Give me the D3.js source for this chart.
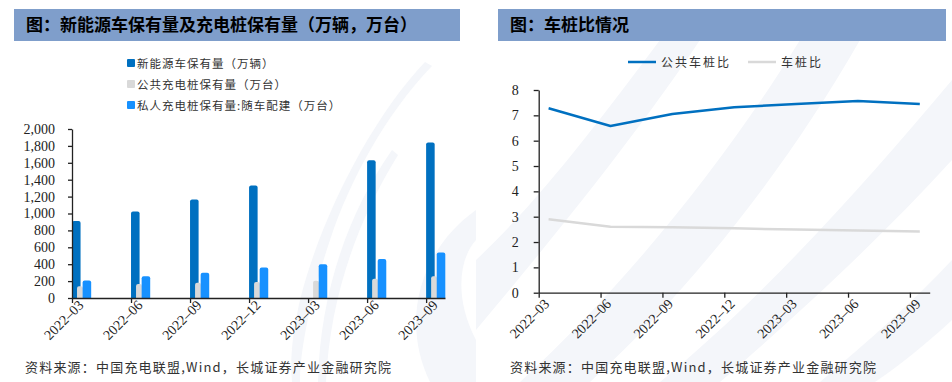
<!DOCTYPE html>
<html>
<head>
<meta charset="utf-8">
<script src="https://cdn.jsdelivr.net/npm/d3@7"></script>
<style>
  body { margin: 0; background: #fff; }
  svg { display: block; }
</style>
</head>
<body>
<div id="my_dataviz"></div>
<script>
// data
var dates = ["2022-03", "2022-06", "2022-09", "2022-12", "2023-03", "2023-06", "2023-09"];
var nevStock = [910, 1025, 1165, 1330, null, 1630, 1840];      // 新能源车保有量（万辆）
var publicPiles = [140, 165, 180, 190, 205, 228, 258];       // 公共充电桩保有量（万台）
var privatePiles = [208, 258, 298, 360, 398, 462, 538];      // 私人充电桩保有量
var publicRatio = [7.28, 6.58, 7.05, 7.32, 7.45, 7.57, 7.45]; // 公共车桩比
var totalRatio = [2.9, 2.6, 2.58, 2.54, 2.49, 2.45, 2.42];     // 车桩比
var leftTicks = [0, 200, 400, 600, 800, 1000, 1200, 1400, 1600, 1800, 2000];
var rightTicks = [0, 1, 2, 3, 4, 5, 6, 7, 8];

var cnFont = "'Noto Sans CJK SC', sans-serif";
var numFont = "'Liberation Serif', 'DejaVu Serif', serif";

var svg = d3.select("#my_dataviz")
    .append("svg")
    .attr("width", 952)
    .attr("height", 382);

// faint watermark in the background
var wm = svg.append("g").attr("fill", "#f4f6fa");
wm.append("path")
    .attr("d", "M425,62 C370,120 320,220 300,300 C292,335 290,360 292,382 L300,382 C300,350 310,300 330,240 C350,180 385,115 432,66 Z");
wm.append("path")
    .attr("d", "M392,150 C350,210 320,290 318,382 L326,382 C330,300 355,225 398,155 Z");
wm.append("path")
    .attr("d", "M476,210 C420,250 400,320 430,382 L476,382 L476,340 C455,300 458,260 476,240 Z");
// diagonal sweeps in the right panel
wm.append("path")
    .attr("d", "M476,260 C540,200 600,120 660,40 L700,40 C640,130 560,230 476,330 Z");
wm.append("path")
    .attr("d", "M520,382 C620,290 720,170 800,40 L860,40 C780,180 680,300 590,382 Z");
wm.append("path")
    .attr("d", "M660,382 C760,300 860,190 952,80 L952,160 C870,250 780,330 720,382 Z");
wm.append("path")
    .attr("d", "M820,382 C870,340 915,300 952,260 L952,320 C925,345 900,365 875,382 Z");

// title bars
function titleBar(x, w, label) {
    svg.append("rect")
        .attr("x", x).attr("y", 9)
        .attr("width", w).attr("height", 32)
        .attr("fill", "#7f9ecb");
    svg.append("text")
        .attr("x", x + 12).attr("y", 31)
        .style("font-family", cnFont)
        .style("font-size", "17px")
        .style("font-weight", "bold")
        .attr("fill", "#000")
        .text(label);
}
titleBar(14, 446, "图：新能源车保有量及充电桩保有量（万辆，万台）");
titleBar(498, 448, "图：车桩比情况");

// ---------- left chart: grouped bars ----------
var L = { left: 72, top: 129, width: 373, height: 169 };
var gL = svg.append("g")
    .attr("transform", "translate(" + L.left + "," + L.top + ")");

var xL = d3.scaleLinear()
    .domain([0, 6.32])
    .range([0, L.width]);
var yL = d3.scaleLinear()
    .domain([0, 2000])
    .range([L.height, 0]);

// drawn in this order: dark bar, grey bar over it, light blue last
var barSeries = [
    { name: "新能源车保有量（万辆）", values: nevStock, color: "#0070c0", off: 0, w: 0.145 },
    { name: "公共充电桩保有量（万台）", values: publicPiles, color: "#d9d9d9", off: 0.085, w: 0.1 },
    { name: "私人充电桩保有量:随车配建（万台）", values: privatePiles, color: "#1791ff", off: 0.18, w: 0.145 }
];

barSeries.forEach(function (s) {
    var bw = xL(s.w) - xL(0);
    gL.selectAll(null)
        .data(s.values.map(function (v, i) { return { i: i, v: v }; }).filter(function (d) { return d.v != null; }))
        .enter()
        .append("path")
        .attr("fill", s.color)
        .attr("d", function (d) {
            var x0 = xL(d.i + s.off), y0 = yL(d.v), y1 = yL(0), r = 2;
            return "M" + x0 + "," + y1 + " L" + x0 + "," + (y0 + r) +
                " Q" + x0 + "," + y0 + " " + (x0 + r) + "," + y0 +
                " L" + (x0 + bw - r) + "," + y0 +
                " Q" + (x0 + bw) + "," + y0 + " " + (x0 + bw) + "," + (y0 + r) +
                " L" + (x0 + bw) + "," + y1 + " Z";
        });
});

function dateLabel(i) { return dates[i].replace("-", "–"); }

// axes
var yAxisL = gL.append("g")
    .call(d3.axisLeft(yL).tickValues(leftTicks).tickSize(4).tickPadding(13).tickSizeOuter(0).tickFormat(d3.format(",")));
var xAxisL = gL.append("g")
    .attr("transform", "translate(0," + L.height + ")")
    .call(d3.axisBottom(xL).tickValues(d3.range(dates.length)).tickSize(5).tickSizeOuter(0)
        .tickFormat(dateLabel));
xAxisL.selectAll("text")
    .attr("x", 0).attr("y", 0).attr("dy", 0)
    .attr("transform", "translate(12,8) rotate(-45)")
    .style("text-anchor", "end");

// legend
var legL = svg.append("g").attr("transform", "translate(127,63)");
barSeries.forEach(function (s, k) {
    legL.append("rect")
        .attr("x", 0).attr("y", k * 21 - 4)
        .attr("width", 8).attr("height", 8)
        .attr("rx", 1)
        .attr("fill", s.color);
    legL.append("text")
        .attr("x", 10).attr("y", k * 21 + 4.5)
        .style("font-family", cnFont)
        .style("font-size", "11.5px")
        .style("letter-spacing", "1px")
        .attr("fill", "#333")
        .text(s.name);
});

// ---------- right chart: lines ----------
var R = { left: 538.7, top: 90, width: 391, height: 202.7 };
var gR = svg.append("g")
    .attr("transform", "translate(" + R.left + "," + R.top + ")");

var xR = d3.scaleLinear()
    .domain([0, 6.32])
    .range([0, R.width]);
var yR = d3.scaleLinear()
    .domain([0, 8])
    .range([R.height, 0]);

var lineSeries = [
    { name: "公共车桩比", values: publicRatio, color: "#0070c0" },
    { name: "车桩比", values: totalRatio, color: "#d9d9d9" }
];
var line = d3.line()
    .x(function (d, i) { return xR(i + 0.16); })
    .y(function (d) { return yR(d); });

lineSeries.slice().reverse().forEach(function (s) {
    gR.append("path")
        .datum(s.values)
        .attr("fill", "none")
        .attr("stroke", s.color)
        .attr("stroke-width", 2.5)
        .attr("stroke-linejoin", "round")
        .attr("d", line);
});

var yAxisR = gR.append("g")
    .call(d3.axisLeft(yR).tickValues(rightTicks).tickSize(5).tickPadding(15).tickSizeOuter(0));
var xAxisR = gR.append("g")
    .attr("transform", "translate(0," + R.height + ")")
    .call(d3.axisBottom(xR).tickValues(d3.range(dates.length)).tickSize(5).tickSizeOuter(0)
        .tickFormat(dateLabel));
xAxisR.selectAll("text")
    .attr("x", 0).attr("y", 0).attr("dy", 0)
    .attr("transform", "translate(11,12) rotate(-45)")
    .style("text-anchor", "end");

// legend
var legR = svg.append("g").attr("transform", "translate(628,62)");
var lx = 0;
lineSeries.forEach(function (s) {
    legR.append("line")
        .attr("x1", lx).attr("x2", lx + 28)
        .attr("y1", 0).attr("y2", 0)
        .attr("stroke", s.color)
        .attr("stroke-width", 2.5);
    legR.append("text")
        .attr("x", lx + 33).attr("y", 4.5)
        .style("font-family", cnFont)
        .style("font-size", "12px")
        .style("letter-spacing", "2px")
        .attr("fill", "#333")
        .text(s.name);
    lx += 120;
});

// common axis styling
svg.selectAll(".domain, .tick line").attr("stroke", "#222").attr("stroke-width", 1.3);
svg.selectAll(".tick text")
    .style("font-family", numFont)
    .style("font-size", "14px")
    .attr("fill", "#222");

// source notes
[25, 510].forEach(function (x) {
    svg.append("text")
        .attr("x", x).attr("y", 372)
        .style("font-family", cnFont)
        .style("font-size", "13px")
        .style("letter-spacing", "1.2px")
        .attr("fill", "#333")
        .text("资料来源：中国充电联盟,Wind，长城证券产业金融研究院");
});
</script>
</body>
</html>
